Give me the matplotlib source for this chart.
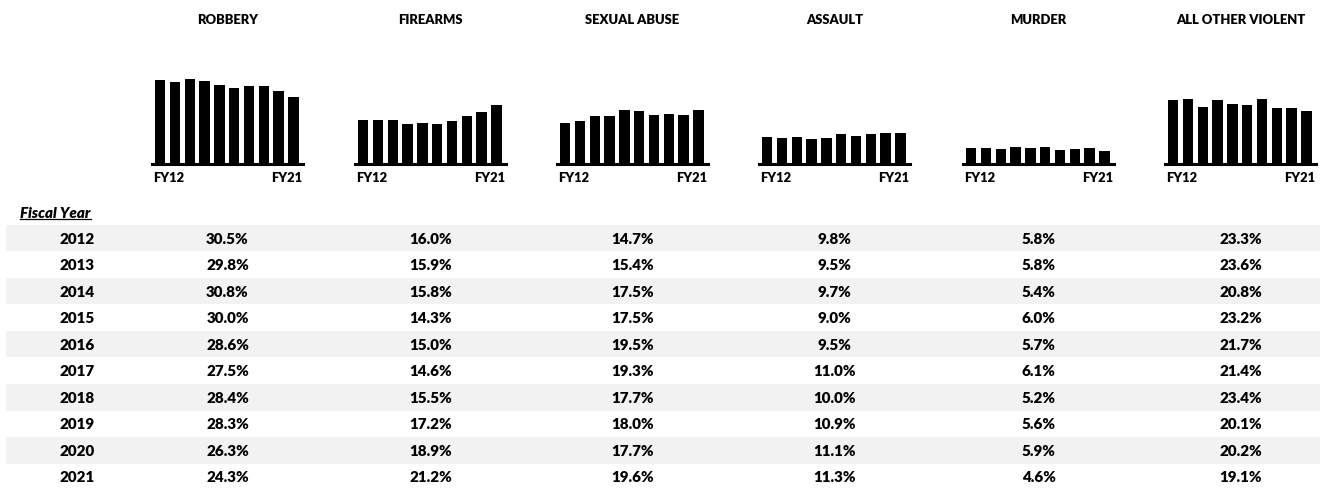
import numpy as np
import matplotlib.pyplot as plt
from matplotlib import font_manager as fm
from matplotlib.patches import Rectangle

def lato(file_name, size):
    for f in fm.fontManager.ttflist:
        if f.fname.endswith('/' + file_name):
            return fm.FontProperties(fname=f.fname, size=size)
    return fm.FontProperties(family='DejaVu Sans', weight='bold', size=size)

years = [2012, 2013, 2014, 2015, 2016, 2017, 2018, 2019, 2020, 2021]
categories = ["ROBBERY", "FIREARMS", "SEXUAL ABUSE", "ASSAULT", "MURDER", "ALL OTHER VIOLENT"]
robbery = [30.5, 29.8, 30.8, 30.0, 28.6, 27.5, 28.4, 28.3, 26.3, 24.3]
firearms = [16.0, 15.9, 15.8, 14.3, 15.0, 14.6, 15.5, 17.2, 18.9, 21.2]
sexual_abuse = [14.7, 15.4, 17.5, 17.5, 19.5, 19.3, 17.7, 18.0, 17.7, 19.6]
assault = [9.8, 9.5, 9.7, 9.0, 9.5, 11.0, 10.0, 10.9, 11.1, 11.3]
murder = [5.8, 5.8, 5.4, 6.0, 5.7, 6.1, 5.2, 5.6, 5.9, 4.6]
all_other = [23.3, 23.6, 20.8, 23.2, 21.7, 21.4, 23.4, 20.1, 20.2, 19.1]
series = [robbery, firearms, sexual_abuse, assault, murder, all_other]

W, H = 1320, 489
fig = plt.figure(figsize=(W / 100, H / 100), dpi=100)

title_fp = lato('Lato-ExtraBold.ttf', 9.4)
fy_fp = lato('Lato-ExtraBold.ttf', 9.4)
cell_fp = lato('Lato-ExtraBold.ttf', 10.9)
head_fp = lato('Lato-ExtraBoldItalic.ttf', 10.9)

# background axes in pixel coordinates for the table
bg = fig.add_axes([0, 0, 1, 1])
bg.set_xlim(0, W)
bg.set_ylim(H, 0)
bg.axis('off')

chart_lefts = [152, 355, 557, 759, 963, 1165]
chart_w = 151
base_y = 165
chart_h = 100
year_x = 77
row0 = 239
row_h = 26.55

x = np.arange(len(years))
for i, (name, vals) in enumerate(zip(categories, series)):
    left = chart_lefts[i]
    ax = fig.add_axes([left / W, (H - base_y) / H, chart_w / W, chart_h / H])
    ax.bar(x, vals, width=0.7, color='black')
    ax.set_xlim(-0.55, 9.65)
    ax.set_ylim(0, 36.2)
    ax.axis('off')
    ax.axhline(0, color='black', lw=2.2, clip_on=False)

    cx = left + chart_w / 2
    bg.text(cx, 20, name, ha='center', va='center', fontproperties=title_fp)
    bg.text(left + 1, 178, "FY12", ha='left', va='center', fontproperties=fy_fp)
    bg.text(left + chart_w - 1, 178, "FY21", ha='right', va='center', fontproperties=fy_fp)

# table
bg.text(20, 213, "Fiscal Year", ha='left', va='center', fontproperties=head_fp)
bg.plot([20, 91], [220, 220], color='black', lw=0.9)

for r, yr in enumerate(years):
    y = row0 + r * row_h
    if r % 2 == 0:
        bg.add_patch(Rectangle((6, y - row_h / 2), W - 6, row_h,
                               color='#f2f2f2', lw=0, zorder=0))
    bg.text(year_x, y, str(yr), ha='center', va='center', fontproperties=cell_fp)
    for i, vals in enumerate(series):
        cx = chart_lefts[i] + chart_w / 2
        bg.text(cx, y, f"{vals[r]:.1f}%", ha='center', va='center', fontproperties=cell_fp)

fig.savefig("out.png", dpi=100)
